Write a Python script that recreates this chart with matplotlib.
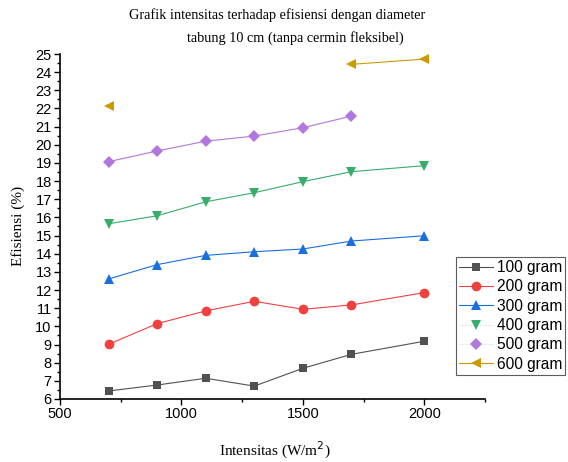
import numpy as np
import matplotlib.pyplot as plt
from matplotlib.ticker import MultipleLocator

# intensity values (W/m^2)
intensitas = [700, 900, 1100, 1300, 1500, 1700, 2000]

# efficiency (%) per load; nan where the point is not visible in the source
ef_100 = [6.44, 6.77, 7.14, 6.71, 7.69, 8.46, 9.18]
ef_200 = [9.01, 10.15, 10.85, 11.38, 10.94, 11.18, 11.86]
ef_300 = [12.61, 13.40, 13.91, 14.11, 14.26, 14.70, 14.99]
ef_400 = [15.65, 16.09, 16.86, 17.36, 17.97, 18.52, 18.85]
ef_500 = [19.07, 19.66, 20.20, 20.48, 20.94, 21.58, np.nan]
ef_600 = [22.13, np.nan, np.nan, np.nan, np.nan, 24.43, 24.72]

labels = ['100 gram', '200 gram', '300 gram', '400 gram', '500 gram', '600 gram']
series = [ef_100, ef_200, ef_300, ef_400, ef_500, ef_600]
colors = ['#515151', '#F14040', '#1A6FDF', '#37AD6B', '#B177DE', '#CC9900']
markers = ['s', 'o', '^', 'v', 'D', '<']
sizes = [6, 7, 7, 7, 6.5, 7]

plt.rcParams['font.family'] = ['Liberation Sans', 'DejaVu Sans']

fig = plt.figure(figsize=(5.68, 4.62), dpi=100)
ax = fig.add_axes([0.1056, 0.1364, 0.7484, 0.7467])

for y, lab, c, m, s in zip(series, labels, colors, markers, sizes):
    ax.plot(intensitas, y, color=c, marker=m, markersize=s, lw=0.8,
            markeredgewidth=0, label=lab)

ax.set_xlim(500, 2250)
ax.set_ylim(6, 25)
ax.xaxis.set_major_locator(MultipleLocator(500))
ax.xaxis.set_minor_locator(MultipleLocator(250))
ax.yaxis.set_major_locator(MultipleLocator(1))
ax.yaxis.set_minor_locator(MultipleLocator(0.5))
ax.tick_params(which='both', direction='out', labelsize=10.5, width=1)
ax.tick_params(which='major', length=4, pad=2)
ax.tick_params(which='minor', length=2.5)
ax.spines['top'].set_visible(False)
ax.spines['right'].set_visible(False)
ax.spines['left'].set_linewidth(1.2)
ax.spines['bottom'].set_linewidth(1.2)

leg = ax.legend(loc='upper left', bbox_to_anchor=(0.803, 0.444), bbox_transform=fig.transFigure,
                frameon=True, fancybox=False, edgecolor='#333333', fontsize=11.2,
                handlelength=2.2, handletextpad=0.2, labelspacing=0.28, borderpad=0.2,
                borderaxespad=0)
leg.get_frame().set_linewidth(0.8)
# the 400 and 500 gram legend lines are very faint in the source
for i in (3, 4):
    ln = leg.get_lines()[i]
    ln.set_color('#eeeeee')
    ln.set_markerfacecolor(colors[i])

serif = ['Liberation Serif', 'DejaVu Serif']
fig.text(0.488, 0.967, 'Grafik intensitas terhadap efisiensi dengan diameter',
         ha='center', va='center', fontsize=10.3, family=serif)
fig.text(0.52, 0.918, 'tabung 10 cm (tanpa cermin fleksibel)',
         ha='center', va='center', fontsize=10.3, family=serif)
fig.text(0.484, 0.026, 'Intensitas (W/m$^2$)', ha='center', va='center',
         fontsize=11, family=serif)
fig.text(0.032, 0.51, 'Efisiensi (%)', ha='center', va='center', rotation=90,
         fontsize=11, family=serif)

fig.savefig('out.png', dpi=100)
